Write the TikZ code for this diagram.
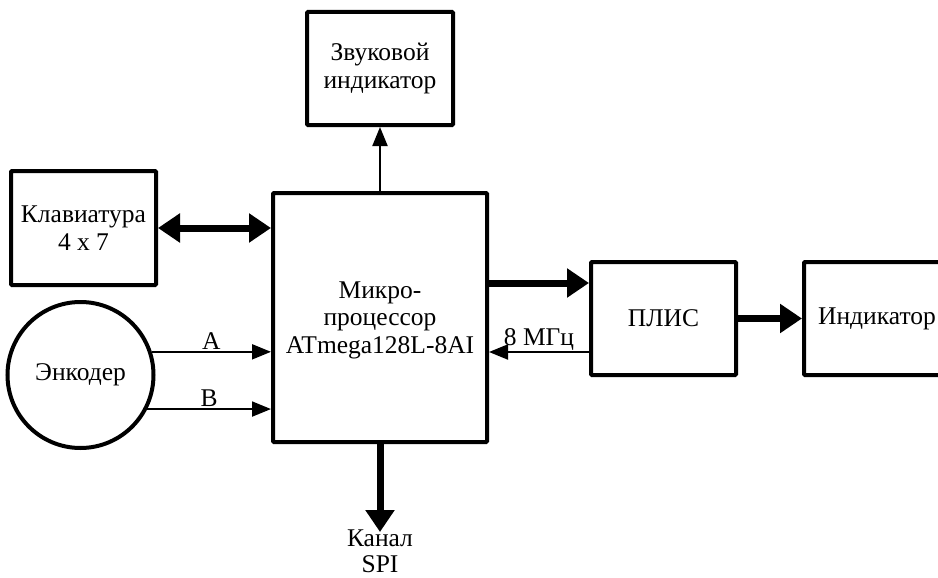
\documentclass[tikz,border=0pt]{standalone}
\usepackage{fontspec}
\setmainfont{Liberation Serif}
\usetikzlibrary{arrows.meta}
\begin{document}
\begin{tikzpicture}[x=1pt,y=-1pt,
  font=\fontsize{25.5}{27.5}\selectfont,
  blk/.style={draw,line width=4pt,rectangle,inner sep=0pt,align=center,rounded corners=1pt},
  thin/.style={line width=2pt,-{Triangle[length=19pt,width=15pt]}},
  fat/.style={line width=7pt,-{Triangle[length=22pt,width=28pt]}},
  fatboth/.style={line width=7pt,{Triangle[length=22pt,width=28pt]}-{Triangle[length=22pt,width=28pt]}},
  lbl/.style={inner sep=1pt}]
\useasboundingbox (0,0) rectangle (938,578);
\node[blk,minimum width=214pt,minimum height=249pt] (main) at (380,317.5) {};
\node[align=center,inner sep=0pt] (maint) at (380,320) {Микро-\\процессор\\ATmega128L-8AI};
\node[blk,minimum width=146pt,minimum height=113pt] (zv) at (380,68.5) {Звуковой\\индикатор};
\node[blk,minimum width=145pt,minimum height=114pt] (kl) at (83.5,228) {Клавиатура\\4 x 7};
\node[draw,line width=4pt,circle,minimum size=146pt,inner sep=0pt] (enc) at (80.5,375) {Энкодер};
\node[blk,minimum width=145pt,minimum height=113pt] (plis) at (663.5,318.5) {ПЛИС};
\node[blk,minimum width=146pt,minimum height=113pt] (ind) at (877,318.5) {Индикатор};
\coordinate (spi) at (380,532);
\node[align=center,inner sep=0pt,anchor=north,font=\fontsize{25.5}{25.5}\selectfont] (spit) at (380,530) {Канал\\SPI};

\draw[thin] (main.north) -- (zv.south);
\draw[fatboth] (kl.east) -- (kl.east -| main.west);
\draw[thin] (enc.18) -- (enc.18 -| main.west) node[lbl,midway,above] {A};
\draw[thin] (enc.-27) -- (enc.-27 -| main.west) node[lbl,midway,above] {B};
\draw[fat] ([yshift=35.5pt]plis.west -| main.east) -- ([yshift=35.5pt]plis.west);
\draw[thin] ([yshift=-33.5pt]plis.west) -- ([yshift=-33.5pt]plis.west -| main.east) node[lbl,midway,above] {8 МГц};
\draw[fat] (plis.east) -- (ind.west);
\draw[fat] (main.south) -- (spi);
\end{tikzpicture}
\end{document}
